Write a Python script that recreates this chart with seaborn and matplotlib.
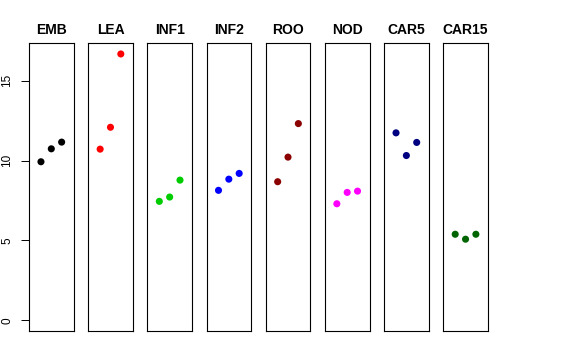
import pandas as pd
import matplotlib
matplotlib.use("Agg")
import matplotlib.pyplot as plt
import seaborn as sns

# tissues and their three values each
tissues = ["EMB", "LEA", "INF1", "INF2", "ROO", "NOD", "CAR5", "CAR15"]
colors = ["black", "red", "#00CD00", "blue", "#8B0000", "magenta", "#000080", "#006400"]
emb = [9.93, 10.74, 11.16]
lea = [10.72, 12.09, 16.68]
inf1 = [7.45, 7.72, 8.78]
inf2 = [8.14, 8.84, 9.20]
roo = [8.68, 10.22, 12.32]
nod = [7.30, 8.01, 8.09]
car5 = [11.74, 10.32, 11.14]
car15 = [5.39, 5.08, 5.39]
values = [emb, lea, inf1, inf2, roo, nod, car5, car15]
yticks = [0, 5, 10, 15]

rows = []
for t, v in zip(tissues, values):
    for i, val in enumerate(v):
        rows.append({"tissue": t, "rep": i + 1, "value": val})
df = pd.DataFrame(rows)

sns.set_style("white")
plt.rcParams['font.family'] = ['Liberation Sans', 'DejaVu Sans']

fig, axes = plt.subplots(1, 8, figsize=(5.76, 3.6), dpi=100, sharey=True)
fig.subplots_adjust(left=0.0503, right=0.847, top=0.8797, bottom=0.0806, wspace=0.325)

ymax = df["value"].max()
for ax, t, c in zip(axes, tissues, colors):
    sub = df[df["tissue"] == t]
    sns.scatterplot(data=sub, x="rep", y="value", color=c, s=26, edgecolor="none", ax=ax)
    ax.set_xlim(-0.16, 4.16)
    ax.set_ylim(-0.04 * ymax, ymax * 1.04)
    ax.set_title(t, fontsize=10, fontweight="bold", pad=7, color="black")
    ax.set_xlabel("")
    ax.set_ylabel("")
    ax.set_xticks([])
    for sp in ax.spines.values():
        sp.set_visible(True)
        sp.set_color("black")
        sp.set_linewidth(0.8)
    ax.tick_params(left=False, labelleft=False)

ax0 = axes[0]
ax0.set_yticks(yticks)
ax0.tick_params(left=True, labelleft=True, length=5.8, width=0.7, pad=5.5,
                labelsize=8.5, labelcolor="black", color="black", direction="out")
for lbl in ax0.get_yticklabels():
    lbl.set_rotation(90)
    lbl.set_va("center")

plt.savefig("out.png", dpi=100)
